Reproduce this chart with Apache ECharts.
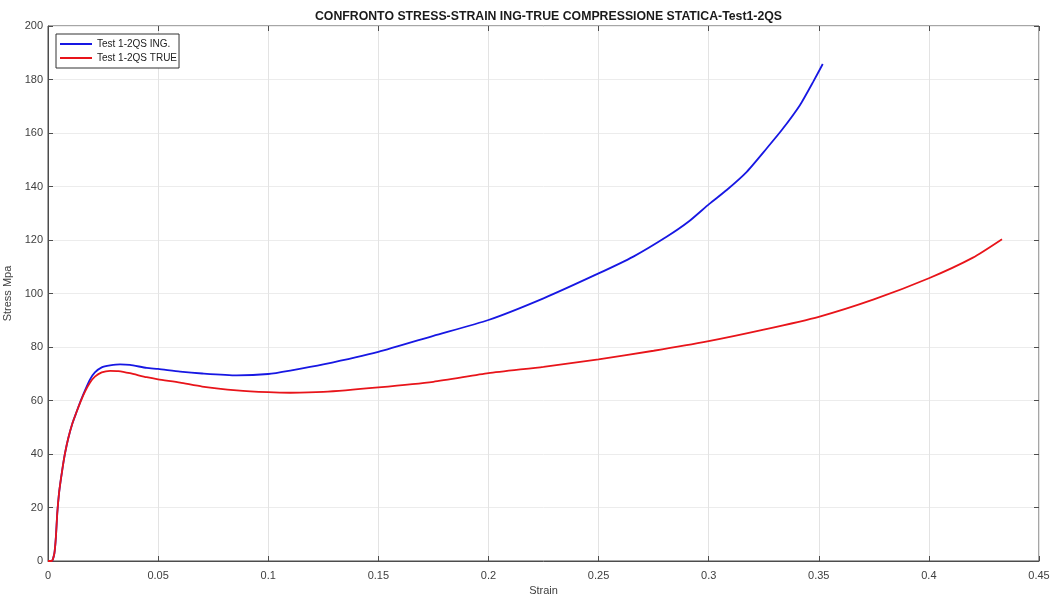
<!DOCTYPE html>
<html>
<head>
<meta charset="utf-8">
<script src="https://cdn.jsdelivr.net/npm/echarts@6/dist/echarts.min.js"></script>
<style>
  html, body { margin: 0; padding: 0; background: #fff; }
  #chart { width: 1054px; height: 594px; }
</style>
</head>
<body>
<div id="chart"></div>
<script>
// Engineering stress-strain curve (static compression, Test 1-2QS)
const ingStrain = [0, 0.0017, 0.0029, 0.0036, 0.0042, 0.0050, 0.0058, 0.0067, 0.0077, 0.0092, 0.0111, 0.0130, 0.0148, 0.0168, 0.0191, 0.0213, 0.0244, 0.0282, 0.0327, 0.0372, 0.0448, 0.05, 0.06, 0.07, 0.0857, 0.1, 0.11, 0.125, 0.15, 0.175, 0.2, 0.225, 0.25, 0.2658, 0.2809, 0.2908, 0.3003, 0.3082, 0.3173, 0.3264, 0.3332, 0.3415, 0.3475, 0.3518];
const ingStress = [0, 0, 2.9, 9.1, 17.8, 25.3, 30.3, 35.3, 40.2, 45.9, 51.5, 55.8, 59.8, 63.8, 67.9, 70.5, 72.4, 73.1, 73.5, 73.3, 72.2, 71.8, 70.8, 70.1, 69.4, 69.9, 71.2, 73.5, 78.2, 84.2, 90.1, 98.2, 107.5, 113.8, 121.2, 126.8, 133.5, 138.7, 145.5, 154.3, 161.1, 170.5, 179.2, 185.8];

// True stress-strain curve
const trueStrain = [0, 0.0017, 0.0029, 0.0036, 0.0042, 0.0050, 0.0058, 0.0067, 0.0077, 0.0092, 0.0111, 0.0130, 0.0148, 0.0168, 0.0191, 0.0213, 0.0244, 0.0282, 0.0319, 0.0372, 0.0448, 0.05, 0.06, 0.07, 0.0857, 0.1, 0.11, 0.125, 0.15, 0.175, 0.2, 0.225, 0.25, 0.275, 0.3, 0.325, 0.35, 0.375, 0.4, 0.42, 0.4332];
const trueStress = [0, 0, 2.9, 9.1, 17.8, 25.3, 30.3, 35.3, 40.2, 45.9, 51.5, 55.8, 59.6, 63.3, 66.7, 68.9, 70.5, 71.1, 71.0, 70.2, 68.7, 67.9, 66.7, 65.2, 63.8, 63.1, 62.9, 63.2, 64.9, 67.0, 70.2, 72.6, 75.4, 78.6, 82.2, 86.5, 91.3, 97.8, 105.7, 113.4, 120.3];

const xTicks = [0, 0.05, 0.1, 0.15, 0.2, 0.25, 0.3, 0.35, 0.4, 0.45];
const yTicks = [0, 20, 40, 60, 80, 100, 120, 140, 160, 180, 200];

const seriesNames = ['Test 1-2QS ING.', 'Test 1-2QS TRUE'];
const titleText = 'CONFRONTO STRESS-STRAIN ING-TRUE COMPRESSIONE STATICA-Test1-2QS';

const pairs = (xs, ys) => xs.map((x, i) => [x, ys[i]]);

const font = 'Liberation Sans, Arial, Helvetica, sans-serif';
const axisColor = '#4d4d4d';
const labelColor = '#404040';

const chart = echarts.init(document.getElementById('chart'), null, { renderer: 'canvas' });

// Secondary axes only draw the inward ticks on the top and right edges of the box
const mirrorAxis = {
  axisLine: { show: false, onZero: false },
  axisLabel: { show: false },
  splitLine: { show: false },
  axisTick: { show: true, inside: true, length: 5, lineStyle: { color: axisColor, width: 1 } }
};

chart.setOption({
  animation: false,
  backgroundColor: '#ffffff',
  title: {
    text: titleText,
    left: 543.5,
    textAlign: 'center',
    top: 6,
    textStyle: { fontFamily: font, fontSize: 12.3, fontWeight: 'bold', color: '#1a1a1a' }
  },
  legend: {
    orient: 'vertical',
    left: 56,
    top: 34,
    padding: [5, 2, 5, 4],
    itemGap: 4,
    itemWidth: 32,
    itemHeight: 2,
    icon: 'rect',
    backgroundColor: '#ffffff',
    borderColor: '#333333',
    borderWidth: 1,
    borderRadius: 0,
    textStyle: { fontFamily: font, fontSize: 10, color: '#222222' },
    data: seriesNames
  },
  grid: {
    left: 48, right: 15, top: 26, bottom: 33,
    show: true,
    borderColor: axisColor,
    borderWidth: 1,
    containLabel: false,
    outerBoundsMode: 'none'
  },
  xAxis: [
    {
      type: 'value',
      min: 0, max: 0.45, interval: 0.05,
      name: 'Strain',
      nameLocation: 'middle',
      nameGap: 23,
      nameTextStyle: { fontFamily: font, fontSize: 11, color: labelColor },
      axisLine: { show: true, onZero: false, lineStyle: { color: axisColor } },
      axisTick: { show: true, inside: true, length: 5, lineStyle: { color: axisColor } },
      axisLabel: {
        fontFamily: font, fontSize: 11, color: labelColor, margin: 9,
        formatter: v => String(+v.toFixed(2))
      },
      splitLine: { show: true, lineStyle: { color: '#e3e3e3', width: 1 } }
    },
    Object.assign({ type: 'value', position: 'top', min: 0, max: 0.45, interval: 0.05 }, mirrorAxis)
  ],
  yAxis: [
    {
      type: 'value',
      min: 0, max: 200, interval: 20,
      name: 'Stress Mpa',
      nameLocation: 'middle',
      nameGap: 35,
      nameMoveOverlap: false,
      nameRotate: 90,
      nameTextStyle: { fontFamily: font, fontSize: 11, color: labelColor },
      axisLine: { show: true, onZero: false, lineStyle: { color: axisColor } },
      axisTick: { show: true, inside: true, length: 5, lineStyle: { color: axisColor } },
      axisLabel: { fontFamily: font, fontSize: 11, color: labelColor, margin: 5 },
      splitLine: { show: true, lineStyle: { color: '#ececec', width: 1 } }
    },
    Object.assign({ type: 'value', position: 'right', min: 0, max: 200, interval: 20 }, mirrorAxis)
  ],
  series: [
    {
      name: seriesNames[0],
      type: 'line',
      data: pairs(ingStrain, ingStress),
      showSymbol: false,
      symbol: 'none',
      smooth: 0.2,
      color: '#1717e3',
      lineStyle: { width: 1.8, color: '#1717e3' },
      z: 3
    },
    {
      name: seriesNames[1],
      type: 'line',
      data: pairs(trueStrain, trueStress),
      showSymbol: false,
      symbol: 'none',
      smooth: 0.2,
      color: '#e8141a',
      lineStyle: { width: 1.8, color: '#e8141a' },
      z: 4
    }
  ]
});
</script>
</body>
</html>
